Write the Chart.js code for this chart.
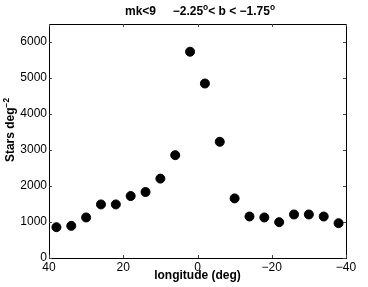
<!DOCTYPE html>
<html>
<head>
<meta charset="utf-8">
<script src="https://cdn.jsdelivr.net/npm/chart.js@4.4.0/dist/chart.umd.min.js"></script>
<style>
  html, body { margin: 0; padding: 0; background: #fff; }
  #wrap { width: 368px; height: 287px; position: relative; }
</style>
</head>
<body>
<div id="wrap"><canvas id="chart" width="368" height="287"></canvas></div>
<script>
// Data
const longitudes = [38, 34, 30, 26, 22, 18, 14, 10, 6, 2, -2, -6, -10, -14, -18, -22, -26, -30, -34, -38];
const starCounts = [856, 893, 1126, 1488, 1488, 1721, 1833, 2205, 2856, 5730, 4847, 3228, 1656, 1153, 1126, 995, 1209, 1209, 1153, 967];
const xTicks = [40, 20, 0, -20, -40];
const yTicks = [0, 1000, 2000, 3000, 4000, 5000, 6000];

const FONT = '"Liberation Sans", Arial, sans-serif';
const minus = v => String(v).replace('-', '\u2212');

// draw text pieces with superscripts, centred on cx
function drawRich(ctx, parts, cx, cy, size) {
    const widths = parts.map(p => {
        ctx.font = 'bold ' + (p.sup ? size * 0.7 : size) + 'px ' + FONT;
        return ctx.measureText(p.t).width;
    });
    let x = cx - widths.reduce((a, b) => a + b, 0) / 2;
    parts.forEach((p, i) => {
        ctx.font = 'bold ' + (p.sup ? size * 0.7 : size) + 'px ' + FONT;
        ctx.fillText(p.t, x, p.sup ? cy - size * 0.4 : cy);
        x += widths[i];
    });
}

// box frame, inward ticks and titles
const framePlugin = {
    id: 'frame',
    afterDraw(chart) {
        const ctx = chart.ctx;
        const a = chart.chartArea;
        const xs = chart.scales.x, ys = chart.scales.y;
        ctx.save();
        ctx.strokeStyle = '#000';
        ctx.lineWidth = 1;
        ctx.strokeRect(a.left + 0.5, a.top + 0.5, a.right - a.left, a.bottom - a.top);
        ctx.strokeStyle = '#444';
        ctx.beginPath();
        xTicks.forEach(v => {
            const px = Math.round(xs.getPixelForValue(v)) + 0.5;
            ctx.moveTo(px, a.bottom); ctx.lineTo(px, a.bottom - 3);
            ctx.moveTo(px, a.top); ctx.lineTo(px, a.top + 3);
        });
        yTicks.forEach(v => {
            const py = Math.round(ys.getPixelForValue(v)) + 0.5;
            ctx.moveTo(a.left, py); ctx.lineTo(a.left + 3, py);
            ctx.moveTo(a.right, py); ctx.lineTo(a.right - 3, py);
        });
        ctx.stroke();

        ctx.fillStyle = '#000';
        ctx.textBaseline = 'middle';
        ctx.textAlign = 'left';
        drawRich(ctx, [
            {t: 'mk<9     \u22122.25'}, {t: 'o', sup: true}, {t: '< b < \u22121.75'}, {t: 'o', sup: true}
        ], 200, 12, 12);
        ctx.textAlign = 'center';
        ctx.font = 'bold 12px ' + FONT;
        ctx.fillText('longitude (deg)', (a.left + a.right) / 2, 276);
        ctx.translate(11, 130);
        ctx.rotate(-Math.PI / 2);
        ctx.textAlign = 'left';
        drawRich(ctx, [{t: 'Stars deg'}, {t: '\u22122', sup: true}], 0, 0, 12);
        ctx.restore();
    }
};

new Chart(document.getElementById('chart').getContext('2d'), {
    type: 'scatter',
    data: {
        datasets: [{
            data: longitudes.map((l, i) => ({x: l, y: starCounts[i]})),
            backgroundColor: '#000',
            borderColor: '#000',
            pointRadius: 4.5,
            pointHoverRadius: 4.5
        }]
    },
    options: {
        responsive: false,
        animation: false,
        layout: { padding: { top: 24, right: 22, left: 0, bottom: 0 } },
        plugins: { legend: { display: false }, tooltip: { enabled: false } },
        scales: {
            x: {
                type: 'linear',
                reverse: true,
                min: -40,
                max: 40,
                afterBuildTicks: s => { s.ticks = xTicks.map(v => ({value: v})); },
                afterFit: s => { s.height = 29; },
                grid: { display: false, drawTicks: false },
                border: { display: false },
                ticks: {
                    padding: 2,
                    color: '#000',
                    font: { family: FONT, size: 12 },
                    maxRotation: 0,
                    callback: v => minus(v)
                }
            },
            y: {
                min: 0,
                max: 6500,
                afterBuildTicks: s => { s.ticks = yTicks.map(v => ({value: v})); },
                afterFit: s => { s.width = 49; },
                grid: { display: false, drawTicks: false },
                border: { display: false },
                ticks: {
                    padding: 2,
                    color: '#000',
                    font: { family: FONT, size: 12 },
                    callback: v => String(v)
                }
            }
        }
    },
    plugins: [framePlugin]
});
</script>
</body>
</html>
